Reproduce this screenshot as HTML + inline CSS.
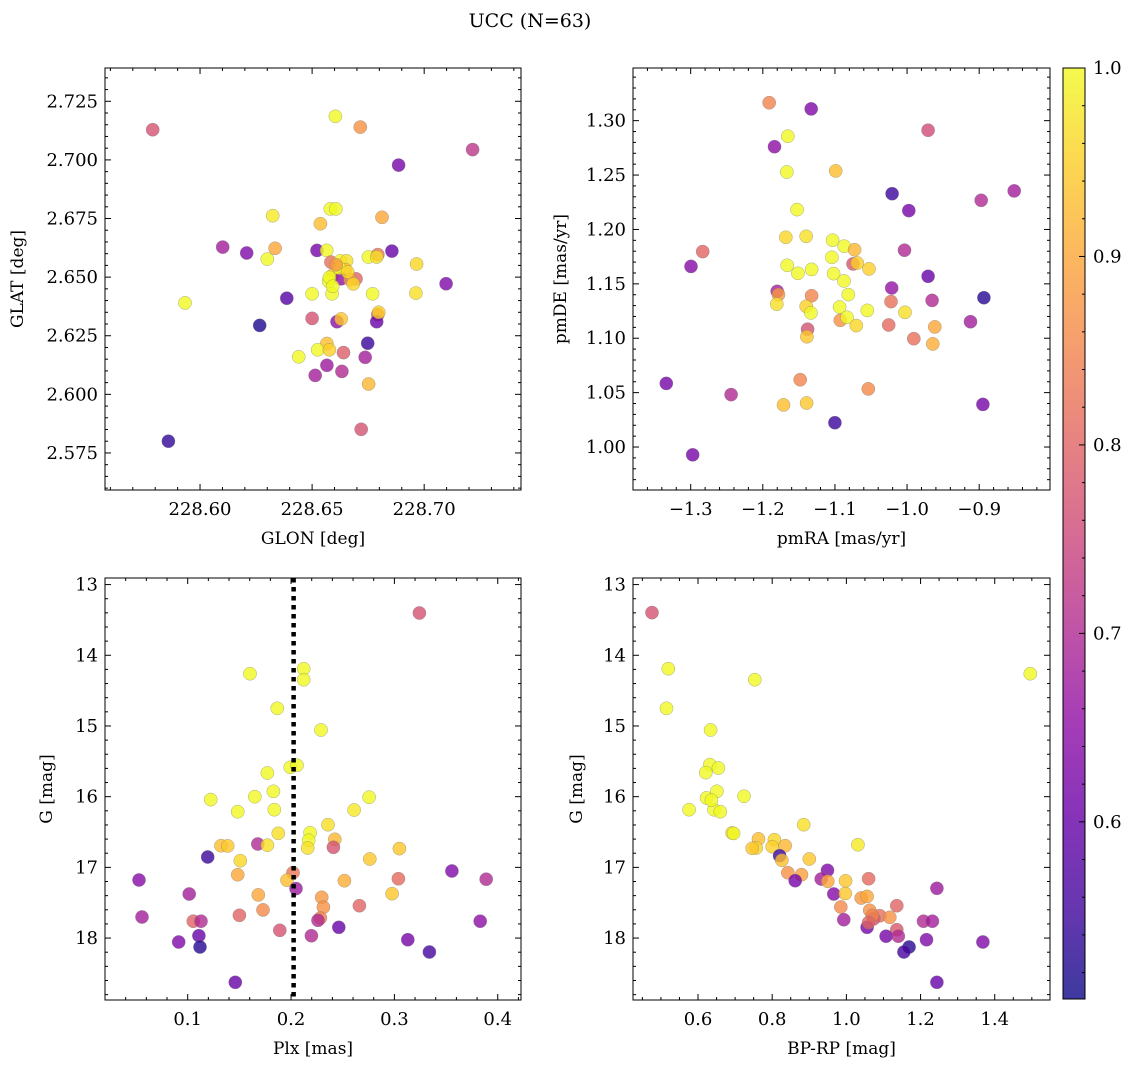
<!DOCTYPE html>
<html><head><meta charset="utf-8"><style>
body{margin:0;background:#fff;}
svg text{font-family:"DejaVu Serif","Liberation Serif",serif;fill:#000;}
</style></head><body>
<svg id="fig" width="1136" height="1067" viewBox="0 0 1136 1067" xmlns="http://www.w3.org/2000/svg">
<defs>
<linearGradient id="cbgrad" x1="0" y1="1" x2="0" y2="0">
<stop offset="0" stop-color="#0d0887"/><stop offset="0.1" stop-color="#41049d"/><stop offset="0.2" stop-color="#6a00a8"/><stop offset="0.3" stop-color="#8f0da4"/><stop offset="0.4" stop-color="#b12a90"/><stop offset="0.5" stop-color="#cc4778"/><stop offset="0.6" stop-color="#e16462"/><stop offset="0.7" stop-color="#f2844b"/><stop offset="0.8" stop-color="#fca636"/><stop offset="0.9" stop-color="#fcce25"/><stop offset="1" stop-color="#f0f921"/>
</linearGradient>
</defs>
<text x="530" y="27" font-size="19" text-anchor="middle">UCC (N=63)</text>
</svg>
<script>
// Panel 1: GLON vs GLAT
const glonVals=[228.5789,228.6604,228.6715,228.7216,228.6886,228.6324,228.6581,228.6606,228.6537,228.6812,228.6101,228.6208,228.6335,228.6300,228.6522,228.6565,228.6584,228.6626,228.6654,228.6648,228.6592,228.6629,228.6574,228.6696,228.6670,228.6684,228.6589,228.6500,228.6751,228.6793,228.6788,228.6856,228.6966,228.6770,228.6963,228.7098,228.6387,228.5933,228.6266,228.6500,228.6611,228.6630,228.6793,228.6788,228.6797,228.6748,228.6566,228.6525,228.6577,228.6640,228.6440,228.6737,228.6566,228.6514,228.6633,228.6752,228.6719,228.5859,228.6621,228.6607,228.6659,228.6577,228.6592];
const glatVals=[2.7129,2.7186,2.7140,2.7044,2.6978,2.6762,2.6791,2.6791,2.6728,2.6755,2.6628,2.6603,2.6623,2.6577,2.6614,2.6614,2.6564,2.6569,2.6569,2.6532,2.6508,2.6493,2.6482,2.6493,2.6489,2.6471,2.6429,2.6429,2.6586,2.6596,2.6586,2.6611,2.6556,2.6429,2.6432,2.6472,2.6410,2.6390,2.6294,2.6324,2.6310,2.6322,2.6340,2.6310,2.6350,2.6218,2.6217,2.6190,2.6190,2.6178,2.6160,2.6158,2.6124,2.6081,2.6098,2.6044,2.5851,2.5800,2.6539,2.6553,2.6522,2.6499,2.6461];
const probP1=[0.77,1.0,0.87,0.72,0.62,0.98,1.0,1.0,0.93,0.9,0.68,0.63,0.9,1.0,0.62,1.0,0.82,1.0,0.97,0.93,0.95,0.65,1.0,0.8,0.88,0.96,1.0,1.0,1.0,0.83,0.97,0.6,0.96,1.0,0.97,0.63,0.58,1.0,0.52,0.77,0.65,0.94,0.8,0.6,0.95,0.55,0.93,1.0,0.95,0.79,1.0,0.68,0.67,0.68,0.7,0.92,0.77,0.54,1.0,0.88,0.96,1.0,1.0];
// Panel 2: pmRA vs pmDE
const pmraVals=[-1.1912,-1.1329,-0.9708,-1.1653,-1.1838,-1.1667,-1.0990,-1.0208,-0.8514,-0.8972,-0.9976,-1.1524,-1.1681,-1.1399,-1.1032,-1.0871,-1.0727,-1.0035,-1.2833,-1.2996,-1.1042,-1.0750,-1.0690,-1.0528,-1.1662,-1.1514,-1.1324,-1.1018,-1.0875,-0.9708,-1.0213,-1.0815,-1.1801,-1.1782,-1.1806,-1.1324,-0.9653,-0.8935,-1.0222,-1.1399,-1.0935,-1.1333,-1.0551,-1.0028,-1.0926,-1.0833,-1.0704,-1.0254,-0.9615,-0.9121,-1.1379,-1.1389,-0.9907,-0.9643,-1.1482,-1.3338,-1.2440,-1.0537,-1.1713,-1.1393,-0.8949,-1.1000,-1.2972];
const pmdeVals=[1.3165,1.3108,1.2912,1.2857,1.2761,1.2528,1.2538,1.2329,1.2354,1.2268,1.2173,1.2182,1.1928,1.1937,1.1901,1.1846,1.1814,1.1809,1.1796,1.1660,1.1744,1.1683,1.1692,1.1637,1.1670,1.1597,1.1633,1.1594,1.1527,1.1569,1.1462,1.1401,1.1431,1.1401,1.1314,1.1391,1.1348,1.1373,1.1337,1.1294,1.1287,1.1233,1.1256,1.1238,1.1165,1.1192,1.1116,1.1122,1.1104,1.1152,1.1083,1.1014,1.0996,1.0948,1.0619,1.0585,1.0482,1.0534,1.0387,1.0405,1.0392,1.0224,0.9929];
const probP2=[0.85,0.63,0.76,1.0,0.65,1.0,0.93,0.55,0.68,0.7,0.62,1.0,0.96,0.97,1.0,1.0,0.92,0.7,0.8,0.64,1.0,0.78,0.95,0.95,1.0,1.0,1.0,1.0,1.0,0.6,0.66,1.0,0.68,0.88,0.97,0.85,0.7,0.53,0.82,0.95,1.0,1.0,1.0,0.97,0.87,1.0,0.96,0.81,0.9,0.68,0.77,0.94,0.82,0.91,0.85,0.62,0.7,0.86,0.93,0.94,0.62,0.55,0.62];
// Panel 3: Plx vs G
const plxVals=[0.3242,0.1603,0.2123,0.2123,0.1867,0.2290,0.1993,0.2058,0.1771,0.1223,0.1649,0.1829,0.1484,0.1838,0.2755,0.2610,0.2358,0.1877,0.2184,0.2171,0.2161,0.2423,0.2410,0.1322,0.1387,0.1678,0.1771,0.1194,0.3048,0.1509,0.2762,0.3556,0.1484,0.2019,0.1961,0.2048,0.0529,0.2516,0.3039,0.3888,0.1015,0.1683,0.2978,0.2297,0.2313,0.1729,0.2661,0.0558,0.1054,0.1129,0.1500,0.2284,0.2261,0.3830,0.1891,0.2462,0.2197,0.1109,0.0913,0.1119,0.3130,0.3339,0.1461];
const gP3=[13.402,14.260,14.190,14.345,14.750,15.057,15.584,15.556,15.665,16.042,16.000,15.924,16.212,16.184,16.008,16.188,16.396,16.518,16.509,16.617,16.726,16.603,16.716,16.693,16.697,16.669,16.686,16.853,16.735,16.905,16.881,17.051,17.103,17.075,17.182,17.301,17.178,17.188,17.160,17.168,17.376,17.390,17.372,17.423,17.564,17.602,17.542,17.702,17.762,17.762,17.678,17.716,17.748,17.762,17.890,17.847,17.966,17.966,18.055,18.126,18.023,18.197,18.625];
const probP3=[0.77,1.0,1.0,1.0,1.0,1.0,1.0,1.0,1.0,1.0,1.0,1.0,1.0,1.0,1.0,0.98,0.97,0.97,1.0,1.0,0.97,0.92,0.77,0.93,0.94,0.7,0.97,0.55,0.94,0.96,0.94,0.63,0.9,0.83,0.93,0.67,0.64,0.91,0.81,0.7,0.68,0.9,0.94,0.88,0.87,0.86,0.8,0.68,0.8,0.7,0.8,0.85,0.7,0.65,0.77,0.6,0.7,0.6,0.63,0.53,0.62,0.56,0.6];
// Panel 4: BP-RP vs G
const bprpVals=[0.476,0.520,1.496,0.753,0.515,0.634,0.632,0.655,0.621,0.623,0.651,0.724,0.576,0.643,0.660,0.885,0.692,0.696,1.031,0.763,0.757,0.746,0.806,0.800,0.835,0.820,0.826,0.900,0.842,0.879,0.862,0.949,0.932,0.950,0.998,1.060,1.244,0.966,0.997,1.040,1.056,0.985,1.136,1.063,1.090,1.074,1.117,0.993,1.208,1.232,1.056,1.136,1.107,1.140,1.216,1.169,1.155,1.368,1.244,0.636,1.070,1.060];
const gP4=[13.397,14.190,14.260,14.345,14.750,15.057,15.547,15.594,15.660,16.018,15.924,15.994,16.184,16.184,16.212,16.396,16.513,16.520,16.679,16.598,16.726,16.730,16.608,16.707,16.693,16.835,16.900,16.881,17.075,17.103,17.188,17.041,17.164,17.197,17.190,17.160,17.296,17.376,17.370,17.433,17.410,17.560,17.542,17.607,17.683,17.726,17.706,17.740,17.762,17.762,17.847,17.881,17.974,17.974,18.023,18.126,18.197,18.055,18.625,16.050,17.680,17.780];
const probP4=[0.77,1.0,1.0,1.0,1.0,1.0,1.0,1.0,1.0,1.0,1.0,1.0,1.0,1.0,1.0,0.97,0.96,1.0,0.98,0.93,0.96,0.94,0.96,0.95,0.92,0.55,0.93,0.94,0.87,0.89,0.62,0.63,0.68,0.9,0.94,0.81,0.67,0.64,0.94,0.88,0.9,0.86,0.8,0.87,0.82,0.78,0.87,0.68,0.7,0.68,0.62,0.78,0.62,0.7,0.63,0.53,0.56,0.63,0.6,1.0,0.85,0.8];
const cbTicks=[0.6,0.7,0.8,0.9,1.0];
const plxLine=0.2025;

const NS='http://www.w3.org/2000/svg';
const svg=document.getElementById('fig');
const VMIN=0.506,VMAX=1.0;
const TF=18, LF=17;
const plasma=[[13,8,135],[65,4,157],[106,0,168],[143,13,164],[177,42,144],[204,71,120],[225,100,98],[242,132,75],[252,166,54],[252,206,37],[240,249,33]];
function cmap(v){let t=(v-VMIN)/(VMAX-VMIN);t=Math.max(0,Math.min(1,t))*10;const i=Math.min(9,Math.floor(t)),f=t-i;const a=plasma[i],b=plasma[i+1];return 'rgb('+[0,1,2].map(k=>Math.round(a[k]+(b[k]-a[k])*f)).join(',')+')';}
function mk(tag,attrs,parent){const e=document.createElementNS(NS,tag);for(const k in attrs)e.setAttribute(k,attrs[k]);(parent||svg).appendChild(e);return e;}
function fmt(v,d){let s=v.toFixed(d);if(v<0)s='\u2212'+s.slice(1);return s;}

function panel(cfg){
  const g=mk('g',{});
  
  
  const {x0,y0,w,h,xmin,xmax,ymin,ymax,yinv}=cfg;
  const sx=v=>x0+(v-xmin)/(xmax-xmin)*w;
  const sy=v=>yinv? y0+(v-ymin)/(ymax-ymin)*h : y0+h-(v-ymin)/(ymax-ymin)*h;
  const pg=mk('g',{},g);
  
  
  for(let i=0;i<cfg.xs.length;i++){
    const c=mk('circle',{cx:sx(cfg.xs[i]).toFixed(1),cy:sy(cfg.ys[i]).toFixed(1),r:6.6,fill:cmap(cfg.cs[i]),'fill-opacity':0.8,stroke:'#777','stroke-width':0.5,'stroke-opacity':0.6},pg);
    
    
  }
  if(cfg.vline!==undefined){
    const l=mk('line',{x1:sx(cfg.vline),x2:sx(cfg.vline),y1:y0,y2:y0+h,stroke:'#000','stroke-width':4.5,'stroke-dasharray':'4.5,4.5'},g);
    
    
  }
  const fr=mk('rect',{x:x0,y:y0,width:w,height:h,fill:'none',stroke:'#000','stroke-width':1},g);
  
  
  function ticks(axis,start,step,maj,dec){
    const lo=axis==='x'?xmin:Math.min(ymin,ymax),hi=axis==='x'?xmax:Math.max(ymin,ymax);
    const n0=Math.ceil((lo-start)/step-1e-6),n1=Math.floor((hi-start)/step+1e-6);
    for(let n=n0;n<=n1;n++){
      const v=start+n*step;const isMaj=Math.abs(((n%maj)+maj)%maj)<1e-9;const L=isMaj?6:3;
      if(axis==='x'){const p=sx(v);
        mk('line',{x1:p,x2:p,y1:y0+h,y2:y0+h-L,stroke:'#000','stroke-width':1},g);
        mk('line',{x1:p,x2:p,y1:y0,y2:y0+L,stroke:'#000','stroke-width':1},g);
        if(isMaj){const t=mk('text',{x:p,y:y0+h+25,'font-size':TF,'text-anchor':'middle'},g);t.textContent=fmt(v,dec);}
      }else{const p=sy(v);
        mk('line',{x1:x0,x2:x0+L,y1:p,y2:p,stroke:'#000','stroke-width':1},g);
        mk('line',{x1:x0+w,x2:x0+w-L,y1:p,y2:p,stroke:'#000','stroke-width':1},g);
        if(isMaj){const t=mk('text',{x:x0-7,y:p+6,'font-size':TF,'text-anchor':'end'},g);t.textContent=fmt(v,dec);}
      }
    }
  }
  ticks('x',cfg.xt[0],cfg.xt[1],cfg.xt[2],cfg.xt[3]);
  ticks('y',cfg.yt[0],cfg.yt[1],cfg.yt[2],cfg.yt[3]);
  const xl=mk('text',{x:x0+w/2,y:y0+h+54,'font-size':LF,'text-anchor':'middle'},g);
  xl.textContent=cfg.xlabel;
  
  
  const yl=mk('text',{x:0,y:0,'font-size':LF,'text-anchor':'middle',transform:'translate('+(cfg.ylx)+','+(y0+h/2)+') rotate(-90)'},g);
  yl.textContent=cfg.ylabel;
  
  
}

panel({name:'glon-glat-panel',x0:105,y0:68,w:416,h:422,xmin:228.5576,xmax:228.7432,ymin:2.5592,ymax:2.7392,xs:glonVals,ys:glatVals,cs:probP1,xt:[228.60,0.01,5,2],yt:[2.575,0.005,5,3],xlabel:'GLON [deg]',ylabel:'GLAT [deg]',ylx:23});
panel({name:'pm-panel',x0:633,y0:68,w:417,h:422,xmin:-1.380,xmax:-0.8018,ymin:0.9605,ymax:1.3484,xs:pmraVals,ys:pmdeVals,cs:probP2,xt:[-1.3,0.02,5,1],yt:[1.0,0.01,5,2],xlabel:'pmRA [mas/yr]',ylabel:'pmDE [mas/yr]',ylx:566});
panel({name:'plx-g-panel',x0:105,y0:578,w:416,h:422,xmin:0.02,xmax:0.4225,ymin:12.907,ymax:18.876,yinv:true,xs:plxVals,ys:gP3,cs:probP3,xt:[0.1,0.02,5,1],yt:[13,0.2,5,0],xlabel:'Plx [mas]',ylabel:'G [mag]',ylx:52,vline:plxLine});
panel({name:'cmd-panel',x0:633,y0:578,w:417,h:422,xmin:0.4247,xmax:1.549,ymin:12.907,ymax:18.876,yinv:true,xs:bprpVals,ys:gP4,cs:probP4,xt:[0.6,0.05,4,1],yt:[13,0.2,5,0],xlabel:'BP-RP [mag]',ylabel:'G [mag]',ylx:582});

const cb=mk('g',{});


const cbx=1063,cby=68,cbw=22,cbh=931;
mk('rect',{x:cbx,y:cby,width:cbw,height:cbh,fill:'url(#cbgrad)','fill-opacity':0.8},cb);
mk('rect',{x:cbx,y:cby,width:cbw,height:cbh,fill:'none',stroke:'#000','stroke-width':1},cb);
const cy=v=>cby+cbh-(v-VMIN)/(VMAX-VMIN)*cbh;
for(let v=0.52;v<=1.0001;v+=0.02){const p=cy(v);const maj=Math.abs(v*10-Math.round(v*10))<1e-6;mk('line',{x1:cbx+cbw,x2:cbx+cbw-(maj?6:3),y1:p,y2:p,stroke:'#000','stroke-width':1},cb);}
cbTicks.forEach(v=>{const t=mk('text',{x:cbx+cbw+8,y:cy(v)+6,'font-size':TF},cb);t.textContent=v.toFixed(1);});
</script>
</body></html>
